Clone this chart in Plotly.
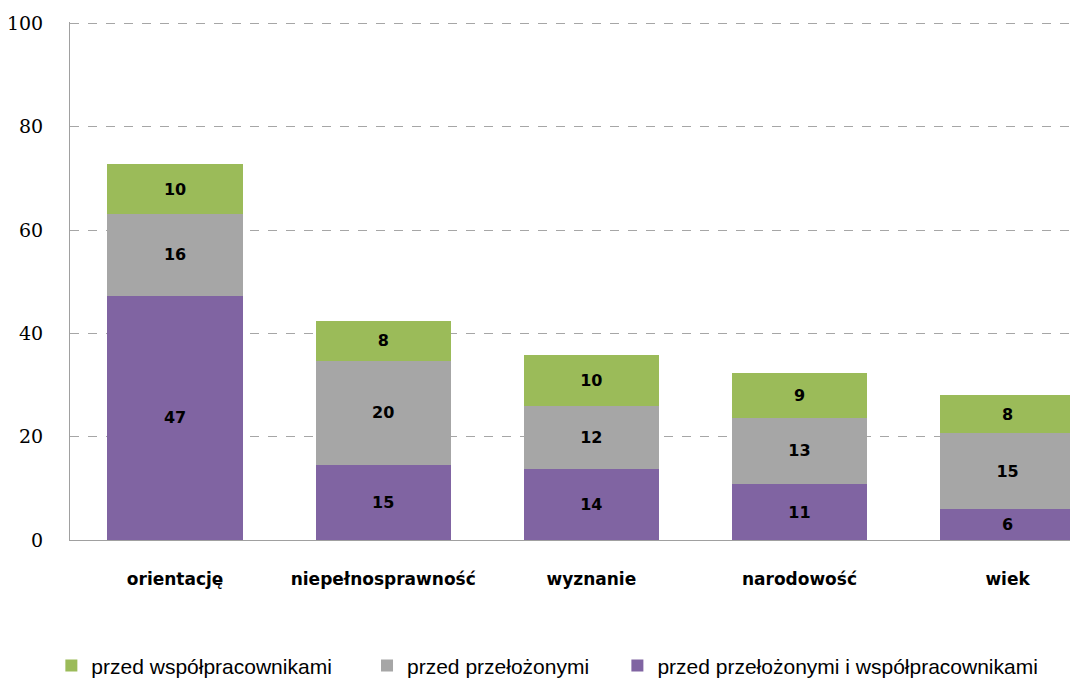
#!/usr/bin/env python3
"""Stacked bar chart: discrimination at work by category."""
import plotly.graph_objects as go

categories = ["orientację", "niepełnosprawność", "wyznanie", "narodowość", "wiek"]

# segment heights (bottom -> top)
both_vals = [47.3, 14.5, 13.7, 10.8, 6.0]
superiors_vals = [15.8, 20.2, 12.2, 12.9, 14.7]
coworkers_vals = [9.7, 7.8, 10.0, 8.7, 7.3]

# printed labels
both_labels = [47, 15, 14, 11, 6]
superiors_labels = [16, 20, 12, 13, 15]
coworkers_labels = [10, 8, 10, 9, 8]

series = [
    ("przed przełożonymi i współpracownikami", both_vals, both_labels, "#8064A2", "legend3"),
    ("przed przełożonymi", superiors_vals, superiors_labels, "#A6A6A6", "legend2"),
    ("przed współpracownikami", coworkers_vals, coworkers_labels, "#9BBB59", "legend"),
]

fig = go.Figure()
for name, vals, labels, color, leg in series:
    fig.add_trace(go.Bar(
        x=categories, y=vals, name=name,
        marker=dict(color=color, line=dict(width=0)),
        text=[f"<b>{v}</b>" for v in labels],
        textposition="inside", insidetextanchor="middle",
        textangle=0, constraintext="none",
        textfont=dict(family="DejaVu Sans", size=16, color="black"),
        legend=leg, showlegend=True,
    ))

legend_font = dict(family="Liberation Sans, Arial", size=21, color="black")
common = dict(xref="container", yref="container", yanchor="middle", xanchor="left",
              orientation="h", font=legend_font, bgcolor="rgba(0,0,0,0)",
              itemwidth=30, tracegroupgap=0, borderwidth=0)

fig.update_layout(
    barmode="stack",
    bargap=0.35,
    width=1070, height=678,
    margin=dict(l=70, r=0, t=22, b=138, autoexpand=False),
    plot_bgcolor="white", paper_bgcolor="white",
    showlegend=True,
    legend=dict(x=0.048, y=0.018, **common),
    legend2=dict(x=0.343, y=0.018, **common),
    legend3=dict(x=0.577, y=0.018, **common),
)

fig.update_xaxes(
    range=[-0.505, 4.3],
    showline=True, linecolor="#A0A0A0", linewidth=1,
    ticks="", ticklabelstandoff=24,
    tickfont=dict(family="DejaVu Sans", size=17, color="black", weight="bold"),
)
fig.update_yaxes(
    range=[0, 100.3], tickvals=[0, 20, 40, 60, 80, 100],
    showline=True, linecolor="#A0A0A0", linewidth=1,
    showgrid=True, gridcolor="#A6A6A6", griddash="dash", gridwidth=1,
    zeroline=False, ticks="", ticklabelstandoff=22,
    tickfont=dict(family="DejaVu Serif", size=19, color="black"),
)

# drop the default page margin so the figure fills the window exactly
fig.write_html("out.html", config={"displayModeBar": False},
               post_script="document.body.style.margin='0';")
